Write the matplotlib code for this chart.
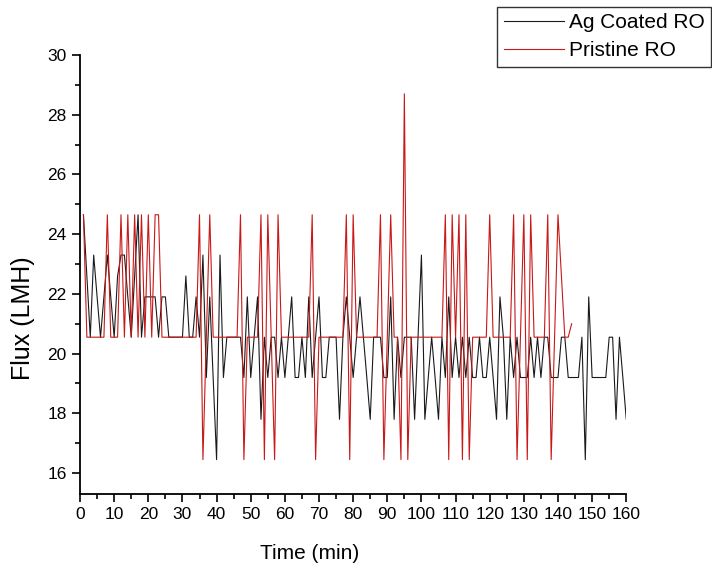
import matplotlib
matplotlib.use("Agg")
import matplotlib.pyplot as plt
from matplotlib.ticker import MultipleLocator

plt.rcParams['font.family'] = ['Liberation Sans', 'DejaVu Sans']

# ---- data ----
ag_time = list(range(1, 161))
ag_flux = [
    24.65, 22.6, 20.55, 23.3, 21.9, 20.55, 21.9, 23.3, 21.9, 20.55,   # 1-10
    22.6, 23.3, 23.3, 21.9, 20.55, 22.6, 24.65, 20.55, 21.9, 21.9,    # 11-20
    21.9, 21.9, 20.55, 21.9, 21.9, 20.55, 20.55, 20.55, 20.55, 20.55, # 21-30
    22.6, 20.55, 20.55, 21.9, 20.55, 23.3, 19.2, 21.9, 19.2, 16.45,   # 31-40
    23.3, 19.2, 20.55, 20.55, 20.55, 20.55, 20.55, 19.2, 21.9, 19.2,  # 41-50
    20.55, 21.9, 17.8, 20.55, 19.2, 20.55, 20.55, 19.2, 20.55, 19.2,  # 51-60
    20.55, 21.9, 19.2, 19.2, 20.55, 19.2, 21.9, 19.2, 20.55, 21.9,    # 61-70
    19.2, 19.2, 20.55, 20.55, 20.55, 17.8, 20.55, 21.9, 20.55, 19.2,  # 71-80
    20.55, 21.9, 20.55, 19.2, 17.8, 20.55, 20.55, 20.55, 19.2, 19.2,  # 81-90
    21.9, 17.8, 20.55, 19.2, 20.55, 20.55, 20.55, 17.8, 20.55, 23.3,  # 91-100
    17.8, 19.2, 20.55, 19.2, 17.8, 20.55, 19.2, 21.9, 19.2, 20.55,    # 101-110
    19.2, 20.55, 19.2, 20.55, 19.2, 19.2, 20.55, 19.2, 19.2, 20.55,   # 111-120
    19.2, 17.8, 21.9, 20.55, 17.8, 20.55, 19.2, 20.55, 19.2, 19.2,    # 121-130
    19.2, 20.55, 19.2, 20.55, 19.2, 20.55, 20.55, 19.2, 19.2, 19.2,   # 131-140
    20.55, 20.55, 19.2, 19.2, 19.2, 19.2, 20.55, 16.45, 21.9, 19.2,   # 141-150
    19.2, 19.2, 19.2, 19.2, 20.55, 20.55, 17.8, 20.55, 19.2, 17.8,    # 151-160
]

pristine_time = list(range(1, 145))
pristine_flux = [
    24.65, 20.55, 20.55, 20.55, 20.55, 20.55, 20.55, 24.65, 20.55, 20.55,  # 1-10
    20.55, 24.65, 20.55, 24.65, 20.55, 24.65, 20.55, 24.65, 20.55, 24.65,  # 11-20
    20.55, 24.65, 24.65, 20.55, 20.55, 20.55, 20.55, 20.55, 20.55, 20.55,  # 21-30
    20.55, 20.55, 20.55, 20.55, 24.65, 16.45, 20.55, 24.65, 20.55, 20.55,  # 31-40
    20.55, 20.55, 20.55, 20.55, 20.55, 20.55, 24.65, 16.45, 20.55, 20.55,  # 41-50
    20.55, 20.55, 24.65, 16.45, 24.65, 20.55, 16.45, 24.65, 20.55, 20.55,  # 51-60
    20.55, 20.55, 20.55, 20.55, 20.55, 20.55, 20.55, 24.65, 16.45, 20.55,  # 61-70
    20.55, 20.55, 20.55, 20.55, 20.55, 20.55, 20.55, 24.65, 16.45, 24.65,  # 71-80
    20.55, 20.55, 20.55, 20.55, 20.55, 20.55, 20.55, 24.65, 16.45, 20.55,  # 81-90
    24.65, 20.55, 20.55, 16.45, 28.7, 16.45, 20.55, 20.55, 20.55, 20.55,   # 91-100
    20.55, 20.55, 20.55, 20.55, 20.55, 20.55, 24.65, 16.45, 24.65, 20.55,  # 101-110
    24.65, 16.45, 24.65, 16.45, 20.55, 20.55, 20.55, 20.55, 20.55, 24.65,  # 111-120
    20.55, 20.55, 20.55, 20.55, 20.55, 20.55, 24.65, 16.45, 20.55, 24.65,  # 121-130
    16.45, 24.65, 20.55, 20.55, 20.55, 20.55, 24.65, 16.45, 20.55, 24.65,  # 131-140
    22.6, 20.55, 20.55, 21.0,                                              # 141-144
]

series_labels = ["Ag Coated RO", "Pristine RO"]
x_label = "Time (min)"
y_label = "Flux (LMH)"

# ---- figure ----
fig = plt.figure(figsize=(7.12, 5.71), dpi=100)
ax = fig.add_axes([0.1124, 0.1349, 0.7672, 0.7688])

ax.plot(ag_time, ag_flux, color="#1a1a1a", lw=0.8, label=series_labels[0])
ax.plot(pristine_time, pristine_flux, color="#c81818", lw=0.8, label=series_labels[1])

ax.set_xlim(0, 160)
ax.set_ylim(15.3, 30)
ax.xaxis.set_major_locator(MultipleLocator(10))
ax.xaxis.set_minor_locator(MultipleLocator(5))
ax.yaxis.set_major_locator(MultipleLocator(2))
ax.yaxis.set_minor_locator(MultipleLocator(1))

for s in ["top", "right"]:
    ax.spines[s].set_visible(False)
for s in ["left", "bottom"]:
    ax.spines[s].set_linewidth(1.3)

ax.tick_params(which="major", direction="out", length=6, width=1.2, labelsize=12.5)
ax.tick_params(which="minor", direction="out", length=3.5, width=1.2)

ax.set_xlabel(x_label, fontsize=15)
ax.set_ylabel(y_label, fontsize=18)
ax.xaxis.set_label_coords(0.421, -0.113)
ax.yaxis.set_label_coords(-0.083, 0.40)

leg = fig.legend(loc="upper right", bbox_to_anchor=(0.999, 0.988),
                 fontsize=15, frameon=True, fancybox=False, edgecolor="black",
                 handlelength=2.9, handletextpad=0.25, borderpad=0.3,
                 borderaxespad=0, labelspacing=0.45)
leg.get_frame().set_linewidth(1.0)

fig.savefig("out.png", dpi=100)
